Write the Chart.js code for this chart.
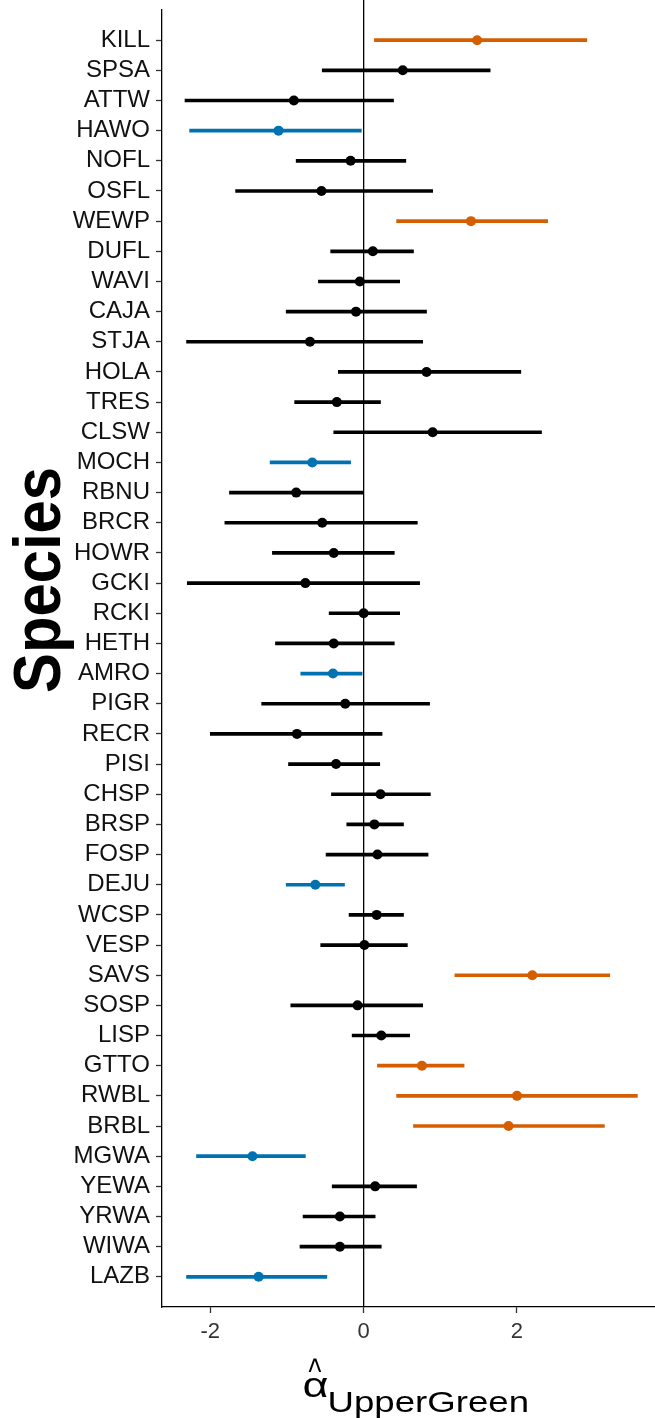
<!DOCTYPE html>
<html>
<head>
<meta charset="utf-8">
<script src="https://cdn.jsdelivr.net/npm/chart.js@4/dist/chart.umd.min.js"></script>
<style>
  html, body { margin: 0; padding: 0; background: #fff; }
</style>
</head>
<body>
<canvas id="forest" width="655" height="1418"></canvas>
<script>
const species = ['KILL','SPSA','ATTW','HAWO','NOFL','OSFL','WEWP','DUFL','WAVI','CAJA','STJA','HOLA','TRES','CLSW','MOCH','RBNU','BRCR','HOWR','GCKI','RCKI','HETH','AMRO','PIGR','RECR','PISI','CHSP','BRSP','FOSP','DEJU','WCSP','VESP','SAVS','SOSP','LISP','GTTO','RWBL','BRBL','MGWA','YEWA','YRWA','WIWA','LAZB'];
const estimate = [1.48,0.51,-0.91,-1.11,-0.17,-0.55,1.40,0.12,-0.05,-0.10,-0.70,0.82,-0.35,0.90,-0.67,-0.88,-0.54,-0.39,-0.76,0.00,-0.39,-0.40,-0.24,-0.87,-0.36,0.22,0.14,0.18,-0.63,0.17,0.01,2.20,-0.08,0.23,0.76,2.00,1.89,-1.45,0.15,-0.31,-0.31,-1.37];
const lower = [0.14,-0.54,-2.33,-2.27,-0.88,-1.67,0.43,-0.43,-0.59,-1.01,-2.31,-0.33,-0.90,-0.39,-1.22,-1.75,-1.81,-1.19,-2.30,-0.45,-1.15,-0.82,-1.33,-2.00,-0.98,-0.42,-0.22,-0.49,-1.01,-0.19,-0.56,1.19,-0.95,-0.15,0.18,0.43,0.65,-2.18,-0.41,-0.79,-0.83,-2.31];
const upper = [2.91,1.65,0.39,-0.03,0.55,0.90,2.40,0.65,0.47,0.82,0.77,2.05,0.22,2.32,-0.17,-0.01,0.70,0.40,0.73,0.47,0.40,-0.02,0.86,0.24,0.21,0.87,0.52,0.84,-0.25,0.52,0.57,3.21,0.77,0.60,1.31,3.57,3.14,-0.76,0.69,0.15,0.23,-0.48];
// pos = interval above zero, neg = below zero, ns = overlaps zero
const effect = ['pos','ns','ns','neg','ns','ns','pos','ns','ns','ns','ns','ns','ns','ns','neg','ns','ns','ns','ns','ns','ns','neg','ns','ns','ns','ns','ns','ns','neg','ns','ns','pos','ns','ns','pos','pos','pos','neg','ns','ns','ns','neg'];
const xTicks = [-2, 0, 2];

const FONT = "'Liberation Sans', Arial, sans-serif";
const COLORS = { pos: '#D55E00', neg: '#0072B2', ns: '#000000' };
const colorOf = effect.map(e => COLORS[e]);

const zeroLine = {
  id: 'zeroLine',
  beforeDatasetsDraw(chart) {
    const { ctx, chartArea, scales } = chart;
    const x = scales.x.getPixelForValue(0);
    ctx.save();
    ctx.strokeStyle = '#000';
    ctx.lineWidth = 1.3;
    ctx.beginPath();
    ctx.moveTo(x, chartArea.top - 10);
    ctx.lineTo(x, chartArea.bottom);
    ctx.stroke();
    ctx.restore();
  }
};

// draw text so its glyph box fills x0..x1, y0..y1
// (toBaseline: y1 is the baseline, descenders hang below)
function fitBox(ctx, text, font, x0, y0, x1, y1, toBaseline) {
  ctx.font = font;
  const m = ctx.measureText(text);
  const bw = m.actualBoundingBoxLeft + m.actualBoundingBoxRight;
  const bh = m.actualBoundingBoxAscent + (toBaseline ? 0 : m.actualBoundingBoxDescent);
  ctx.save();
  ctx.translate(x0, y0);
  ctx.scale((x1 - x0) / bw, (y1 - y0) / bh);
  ctx.fillText(text, m.actualBoundingBoxLeft, m.actualBoundingBoxAscent);
  ctx.restore();
}

// axis titles: "Species" and alpha-hat with subscript
const axisTitles = {
  id: 'axisTitles',
  afterDraw(chart) {
    const { ctx, chartArea } = chart;
    const t = chart.scales.x.top;
    const mid = (chartArea.left + chartArea.right) / 2;
    ctx.save();
    ctx.fillStyle = '#000';
    ctx.textBaseline = 'alphabetic';

    fitBox(ctx, '^', '40px ' + FONT, mid - 100, t + 50.5, mid - 87, t + 64.5);
    fitBox(ctx, 'α', '30px ' + FONT, mid - 104.5, t + 70.5, mid - 80.5, t + 89.5);
    fitBox(ctx, 'UpperGreen', '30px ' + FONT, mid - 78.5, t + 84.5, mid + 118.5, t + 104.5, true);

    ctx.font = 'bold 66px ' + FONT;
    const m = ctx.measureText('Species');
    ctx.translate(12 + m.actualBoundingBoxAscent, chartArea.top + 683);
    ctx.rotate(-Math.PI / 2);
    ctx.scale(226 / m.width, 1);
    ctx.fillText('Species', 0, 0);
    ctx.restore();
  }
};

new Chart(document.getElementById('forest'), {
  type: 'bar',
  data: {
    datasets: [
      {
        type: 'scatter',
        data: species.map((s, i) => ({ x: estimate[i], y: i })),
        backgroundColor: colorOf,
        borderWidth: 0,
        pointRadius: 5,
        order: 1
      },
      {
        type: 'bar',
        data: species.map((s, i) => ({ x: [lower[i], upper[i]], y: i })),
        backgroundColor: colorOf,
        borderWidth: 0,
        barThickness: 3,
        order: 2
      }
    ]
  },
  options: {
    indexAxis: 'y',
    responsive: false,
    animation: false,
    layout: { autoPadding: false, padding: { top: 10, left: 0, right: 0, bottom: 0 } },
    plugins: {
      legend: { display: false },
      tooltip: { enabled: false }
    },
    scales: {
      x: {
        type: 'linear',
        min: -2.63,
        max: 3.8,
        afterBuildTicks: s => { s.ticks = xTicks.map(v => ({ value: v })); },
        afterFit: s => { s.height = 111; s.paddingLeft = 0; s.paddingRight = 0; },
        ticks: { font: { family: FONT, size: 22 }, color: '#333', padding: 6 },
        grid: { drawOnChartArea: false, tickLength: 6, tickColor: '#333', tickWidth: 1.3 },
        border: { display: true, color: '#000', width: 1.3 }
      },
      y: {
        type: 'linear',
        reverse: true,
        offset: false,
        min: -1,
        max: 42,
        afterBuildTicks: s => { s.ticks = species.map((_, i) => ({ value: i })); },
        afterFit: s => { s.width = 162; s.paddingTop = 0; s.paddingBottom = 0; },
        ticks: {
          autoSkip: false,
          callback: v => species[v],
          font: { family: FONT, size: 24 },
          color: '#111',
          padding: 6
        },
        grid: { offset: false, drawOnChartArea: false, tickLength: 6, tickColor: '#333', tickWidth: 1.3 },
        border: { display: true, color: '#000', width: 1.3 }
      }
    }
  },
  plugins: [zeroLine, axisTitles]
});
</script>
</body>
</html>
